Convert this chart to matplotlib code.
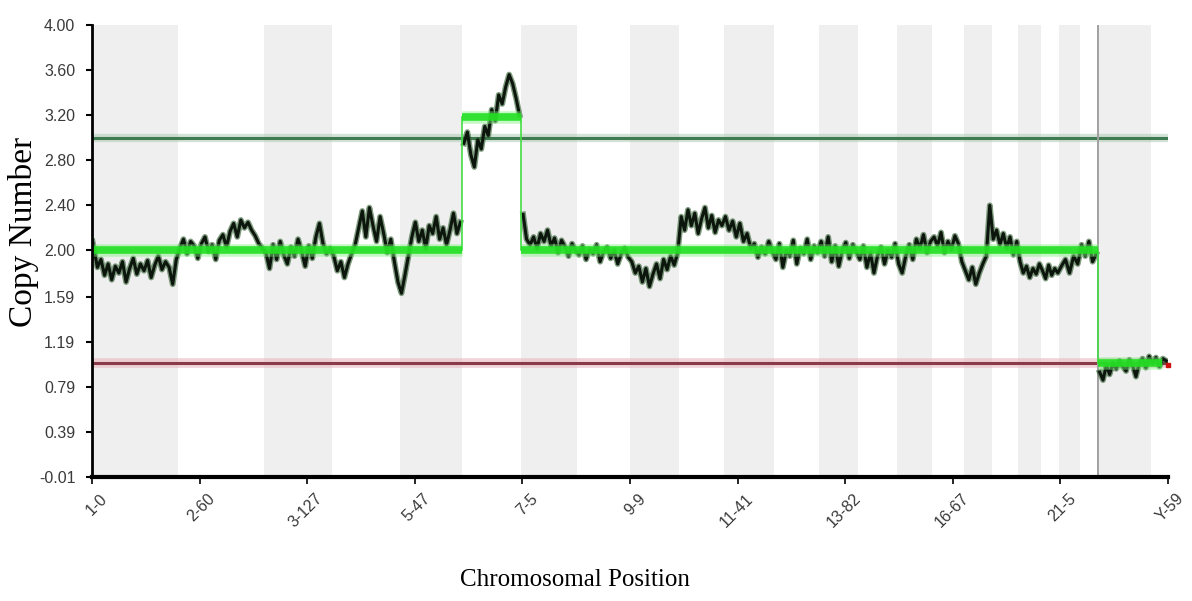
import numpy as np
import matplotlib
matplotlib.use('Agg')
import matplotlib.pyplot as plt
from matplotlib.transforms import ScaledTranslation

# Chromosome layout along the genome axis (0..1000 units)
chrom_names = ['1', '2', '3', '4', '5', '6', '7', '8', '9', '10', '11', '12',
               '13', '14', '15', '16', '17', '18', '19', '20', '21', '22', 'X', 'Y']
chrom_bounds = [0, 80, 160, 223, 286, 344, 399, 451, 500, 546, 587, 634, 676,
                712, 748, 781, 810, 836, 861, 882, 899, 918, 935, 984, 1000]

# Copy-number trace, one list per chromosome
cn_values = [
    [2.08, 1.85, 1.92, 1.78, 1.88, 1.74, 1.86, 1.80, 1.90, 1.72, 1.84, 1.93,
     1.79, 1.88, 1.82, 1.91, 1.76, 1.87, 1.95, 1.83, 1.90, 1.85, 1.70, 1.92],
    [2.02, 2.10, 1.97, 2.08, 2.04, 1.93, 2.06, 2.12, 1.99, 2.05, 1.92, 2.09,
     2.14, 2.03, 2.17, 2.24, 2.12, 2.27, 2.20, 2.25, 2.18, 2.13, 2.06, 2.02],
    [1.98, 1.84, 2.05, 1.92, 2.08, 1.96, 1.88, 2.03, 1.95, 2.10, 1.99, 1.86,
     2.04, 1.93, 2.12, 2.24, 2.06, 1.97, 2.02],
    [1.95, 1.82, 1.90, 1.76, 1.88, 1.97, 2.05, 2.20, 2.35, 2.12, 2.38, 2.22,
     2.08, 2.30, 2.15, 1.98, 2.10, 1.90, 1.72],
    [1.62, 1.78, 1.95, 2.12, 2.25, 2.08, 2.18, 2.02, 2.22, 2.15, 2.30, 2.10,
     2.20, 2.05, 2.18, 2.33, 2.15, 2.25],
    [2.95, 3.05, 2.85, 2.74, 2.98, 2.90, 3.10, 3.02, 3.25, 3.15, 3.38, 3.30,
     3.45, 3.56, 3.48, 3.35, 3.20],
    [2.32, 2.10, 2.05, 2.12, 2.02, 2.15, 2.08, 2.18, 2.04, 2.11, 1.98, 2.09,
     2.03, 1.95, 2.06, 2.00],
    [1.96, 2.04, 1.92, 2.01, 1.97, 2.05, 1.90, 1.99, 2.03, 1.93, 2.00, 1.88,
     1.97, 2.02, 1.94],
    [1.90, 1.80, 1.86, 1.72, 1.84, 1.68, 1.79, 1.88, 1.75, 1.92, 1.83, 1.95,
     1.87, 1.98],
    [2.30, 2.18, 2.36, 2.22, 2.33, 2.15, 2.28, 2.38, 2.20, 2.31, 2.16, 2.27, 2.22],
    [2.30, 2.18, 2.26, 2.12, 2.24, 2.08, 2.15, 2.02, 2.06, 1.94, 2.03, 1.97,
     2.08, 1.99],
    [1.92, 2.06, 1.85, 2.00, 1.95, 2.09, 1.88, 2.02, 1.97, 2.10, 1.92, 2.04, 1.98],
    [2.08, 1.95, 2.12, 1.90, 2.04, 1.86, 2.00, 2.07, 1.93, 2.05, 1.99],
    [1.92, 2.04, 1.85, 1.98, 1.80, 1.95, 2.03, 1.88, 2.00, 1.94, 2.06],
    [1.88, 1.80, 1.95, 2.05, 1.92, 2.10, 2.02, 2.14, 1.98, 2.08],
    [2.12, 2.04, 2.16, 1.98, 2.08, 2.01, 2.13, 2.06, 1.90],
    [1.82, 1.74, 1.85, 1.70, 1.80, 1.88, 1.95, 2.40],
    [2.10, 2.18, 2.05, 2.15, 2.02, 2.12, 1.96, 2.08],
    [1.90, 1.80, 1.86, 1.76, 1.84, 1.79, 1.88],
    [1.82, 1.75, 1.87, 1.78, 1.84, 1.80],
    [1.86, 1.92, 1.80, 1.95, 1.88],
    [2.05, 1.95, 2.08, 1.90, 1.97],
    [0.92, 0.85, 0.98, 0.90, 1.00, 0.95, 1.02, 0.97, 0.93, 1.03, 0.98, 0.88,
     1.00, 1.04, 0.96, 1.06],
    [1.00, 1.05, 0.97, 1.04, 1.02],
]

# Segmented copy-number calls
seg_start = [0, 344, 399, 935]
seg_end = [344, 399, 935, 994]
seg_value = [2.0, 3.18, 2.0, 1.0]

gain_level = 3.0
loss_level = 1.0

xtick_labels = ['1-0', '2-60', '3-127', '5-47', '7-5', '9-9', '11-41',
                '13-82', '16-67', '21-5', 'Y-59']
ytick_values = [-0.01, 0.39, 0.79, 1.19, 1.59, 2.00, 2.40, 2.80, 3.20, 3.60, 4.00]

fig = plt.figure(figsize=(11.92, 6.01), dpi=100)
ax = fig.add_axes([92 / 1192, (601 - 477) / 601, (1168 - 92) / 1192, 452 / 601])

# alternating chromosome shading
for i in range(len(chrom_names)):
    if i % 2 == 0:
        ax.axvspan(chrom_bounds[i], chrom_bounds[i + 1], color='#efefef', lw=0, zorder=0)

# threshold lines
ax.axhline(gain_level, color='#a8c8b0', lw=6, alpha=0.5, zorder=1)
ax.axhline(gain_level, color='#3f7a50', lw=2.2, zorder=2)
ax.axhline(loss_level, color='#e8b8c0', lw=7, alpha=0.6, zorder=1)
ax.axhline(loss_level, color='#8a3a48', lw=2.2, zorder=2)

# marker line at the X chromosome
ax.axvline(chrom_bounds[22], color='#a0a0a0', lw=1.4, zorder=2)

# raw trace, placed evenly inside each chromosome; broken where the segment changes
trace_x = []
trace_y = []
for i in range(len(chrom_names)):
    vals = cn_values[i]
    x0, x1 = chrom_bounds[i], chrom_bounds[i + 1]
    if x0 in seg_start[1:]:
        trace_x.append(np.nan)
        trace_y.append(np.nan)
    step = (x1 - x0) / len(vals)
    xs = x0 + step * (np.arange(len(vals)) + 0.5)
    if i == 0:
        xs[0] = x0 + 0.5
    trace_x.extend(xs)
    trace_y.extend(vals)
ax.plot(trace_x, trace_y, color='#2a5a2a', lw=4.2, alpha=0.6, zorder=3)
ax.plot(trace_x, trace_y, color='#0c160c', lw=2.2, zorder=4)

# segments
for s, e, v in zip(seg_start, seg_end, seg_value):
    ax.plot([s, e], [v, v], color='#7ef07e', lw=9, alpha=0.45, zorder=5,
            solid_capstyle='butt')
    ax.plot([s, e], [v, v], color='#22e022', lw=5.5, alpha=0.9, zorder=6,
            solid_capstyle='butt')
for k in range(1, len(seg_start)):
    ax.plot([seg_start[k], seg_start[k]], [seg_value[k - 1], seg_value[k]],
            color='#44dd44', lw=1.2, zorder=5)

ax.plot([1000], [0.98], marker='s', color='#cc1010', ms=2.5, zorder=7, clip_on=False)

ax.set_xlim(0, 1000)
ax.set_ylim(-0.01, 4.00)

for side in ['top', 'right']:
    ax.spines[side].set_visible(False)
ax.spines['left'].set_linewidth(2)
ax.spines['bottom'].set_linewidth(3)
ax.spines['left'].set_zorder(8)
ax.spines['bottom'].set_zorder(8)

ax.set_yticks(ytick_values)
ax.set_yticklabels(['%.2f' % v for v in ytick_values])
ax.set_xticks(np.arange(0, 1001, 100))
ax.set_xticklabels(xtick_labels)
ax.tick_params(axis='y', length=4, width=1.5, pad=8, labelsize=11.5,
               labelcolor='#3a3a3a', direction='out')
ax.tick_params(axis='x', length=5, width=1.2, pad=5, labelsize=11.5,
               labelcolor='#3a3a3a', direction='out')
for lab in ax.get_yticklabels():
    lab.set_fontfamily('Liberation Sans')
offset = ScaledTranslation(8 / 100, 0, fig.dpi_scale_trans)
for lab in ax.get_xticklabels():
    lab.set_fontfamily('Liberation Sans')
    lab.set_rotation(45)
    lab.set_rotation_mode('anchor')
    lab.set_ha('right')
    lab.set_va('top')
    lab.set_transform(lab.get_transform() + offset)

fig.text(24 / 1192, 1 - 232 / 601, 'Copy Number', rotation=90, ha='center',
         va='center', fontsize=24, fontfamily='Liberation Serif')
fig.text(575 / 1192, 1 - 580 / 601, 'Chromosomal Position', ha='center',
         va='center', fontsize=18, fontfamily='Liberation Serif')

fig.savefig('out.png', dpi=100)
